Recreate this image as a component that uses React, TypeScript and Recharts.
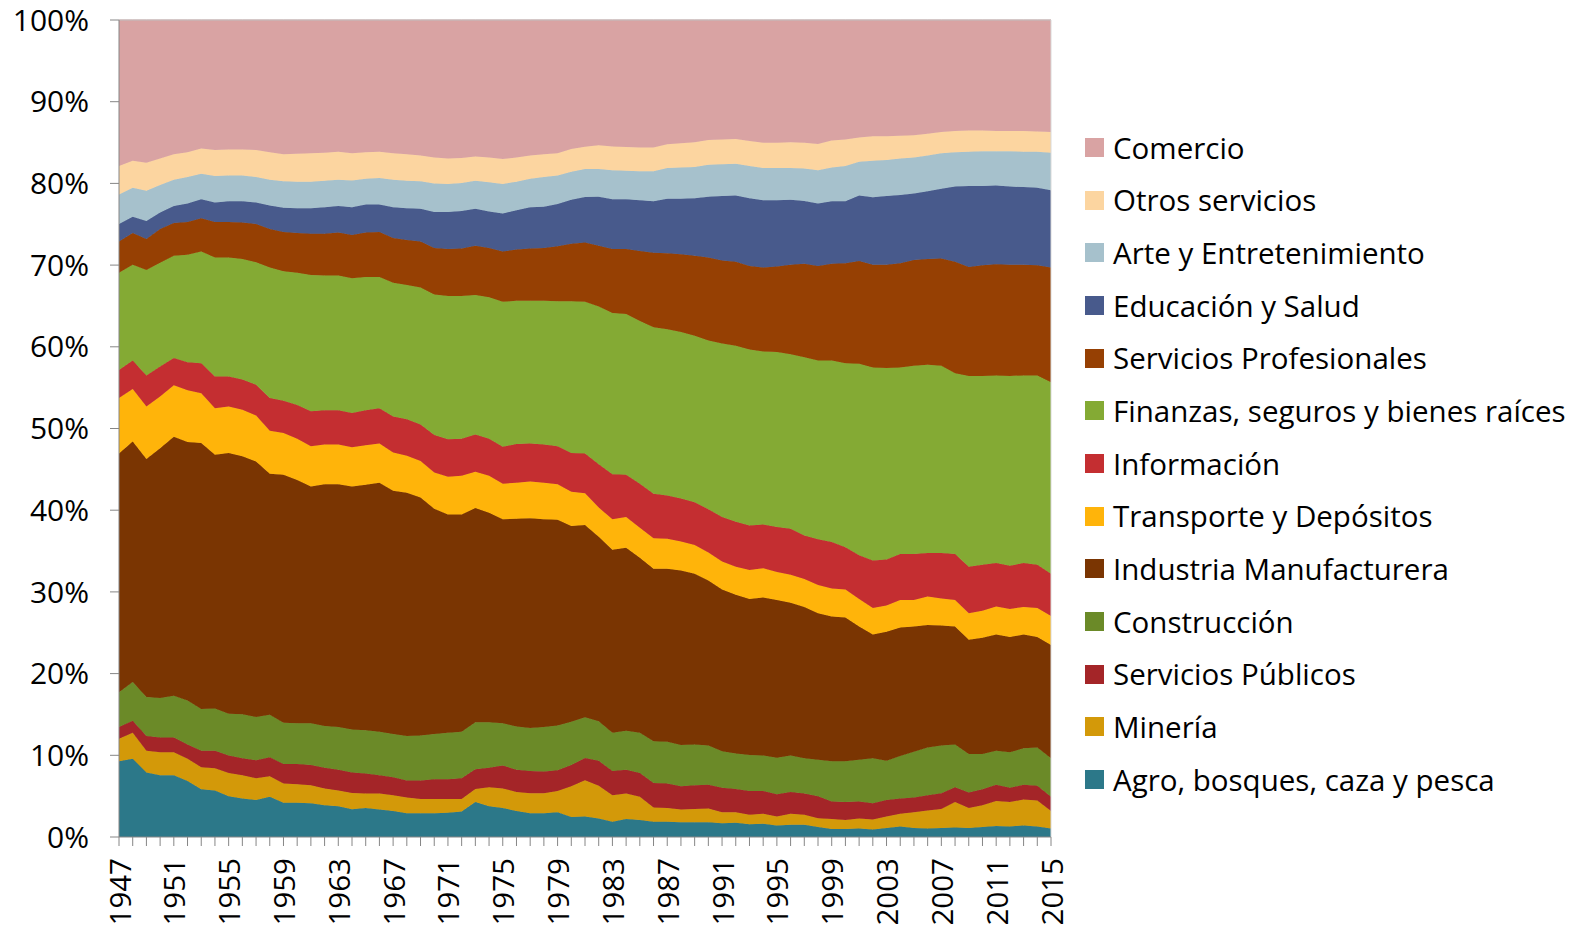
import React from 'react';
import { AreaChart, Area, XAxis, YAxis, Legend, ReferenceLine } from 'recharts';

const years = [
  1947, 1948, 1949, 1950, 1951, 1952, 1953, 1954, 1955, 1956, 1957, 1958, 1959, 1960,
  1961, 1962, 1963, 1964, 1965, 1966, 1967, 1968, 1969, 1970, 1971, 1972, 1973, 1974,
  1975, 1976, 1977, 1978, 1979, 1980, 1981, 1982, 1983, 1984, 1985, 1986, 1987, 1988,
  1989, 1990, 1991, 1992, 1993, 1994, 1995, 1996, 1997, 1998, 1999, 2000, 2001, 2002,
  2003, 2004, 2005, 2006, 2007, 2008, 2009, 2010, 2011, 2012, 2013, 2014, 2015,
];

const agro = [9.26, 9.58, 7.9, 7.57, 7.57, 6.86, 5.83, 5.7, 4.98, 4.72, 4.53, 4.92, 4.2, 4.2, 4.14, 3.88, 3.75, 3.4, 3.56, 3.37, 3.17, 2.91, 2.91, 2.91, 2.98, 3.11, 4.27, 3.75, 3.56, 3.17, 2.91, 2.91, 3.04, 2.46, 2.5, 2.27, 1.88, 2.2, 2.07, 1.88, 1.88, 1.81, 1.81, 1.81, 1.68, 1.75, 1.55, 1.62, 1.42, 1.49, 1.49, 1.23, 0.97, 0.97, 1.04, 0.91, 1.1, 1.29, 1.1, 1.04, 1.1, 1.17, 1.1, 1.23, 1.36, 1.29, 1.42, 1.29, 1.04];
const mineria = [2.78, 3.17, 2.65, 2.79, 2.79, 2.72, 2.71, 2.71, 2.85, 2.85, 2.65, 2.52, 2.34, 2.27, 2.2, 2.07, 1.95, 2.0, 1.75, 1.94, 1.94, 1.94, 1.75, 1.75, 1.68, 1.55, 1.62, 2.33, 2.39, 2.33, 2.46, 2.46, 2.59, 3.75, 4.46, 4.01, 3.23, 3.11, 2.85, 1.74, 1.68, 1.56, 1.62, 1.69, 1.36, 1.29, 1.17, 1.23, 1.1, 1.36, 1.23, 1.07, 1.23, 1.1, 1.23, 1.23, 1.42, 1.56, 1.94, 2.2, 2.33, 3.1, 2.46, 2.65, 3.04, 2.98, 3.18, 3.18, 2.13];
const serviciosPublicos = [1.42, 1.49, 1.81, 1.81, 1.81, 1.75, 2.01, 2.14, 2.14, 2.07, 2.21, 2.33, 2.39, 2.46, 2.46, 2.53, 2.52, 2.5, 2.46, 2.26, 2.2, 2.08, 2.27, 2.4, 2.4, 2.52, 2.39, 2.4, 2.79, 2.72, 2.72, 2.66, 2.53, 2.59, 2.72, 3.04, 2.98, 2.91, 2.91, 2.98, 2.98, 2.84, 2.91, 2.91, 2.98, 2.85, 2.91, 2.78, 2.72, 2.65, 2.59, 2.68, 2.14, 2.2, 2.07, 2.0, 2.01, 1.87, 1.81, 1.87, 1.94, 1.81, 1.88, 1.95, 2.01, 1.75, 1.81, 1.81, 1.75];
const construccion = [4.27, 4.72, 4.79, 4.85, 5.11, 5.37, 5.11, 5.18, 5.11, 5.38, 5.3, 5.18, 5.05, 4.99, 5.12, 5.11, 5.24, 5.27, 5.3, 5.31, 5.31, 5.43, 5.5, 5.56, 5.69, 5.7, 5.77, 5.57, 5.18, 5.31, 5.24, 5.43, 5.5, 5.31, 4.98, 4.85, 4.66, 4.79, 4.92, 5.12, 5.11, 5.05, 4.99, 4.79, 4.47, 4.34, 4.4, 4.34, 4.47, 4.47, 4.33, 4.47, 4.92, 4.99, 5.11, 5.5, 4.79, 5.18, 5.57, 5.83, 5.83, 5.25, 4.72, 4.33, 4.14, 4.34, 4.46, 4.66, 4.72];
const industria = [29.2, 29.45, 29.13, 30.55, 31.72, 31.65, 32.56, 31.07, 31.91, 31.58, 31.26, 29.52, 30.36, 29.77, 28.99, 29.58, 29.71, 29.74, 30.04, 30.49, 29.77, 29.78, 29.12, 27.57, 26.73, 26.6, 26.21, 25.63, 24.98, 25.43, 25.7, 25.44, 25.17, 23.95, 23.53, 22.59, 22.4, 22.39, 21.42, 21.1, 21.17, 21.36, 20.9, 20.19, 19.8, 19.41, 19.1, 19.35, 19.29, 18.7, 18.52, 17.93, 17.73, 17.6, 16.31, 15.15, 15.79, 15.73, 15.34, 15.01, 14.69, 14.43, 13.98, 14.24, 14.24, 14.11, 13.92, 13.53, 13.86];
const transporte = [6.79, 6.41, 6.41, 6.35, 6.28, 6.34, 6.08, 5.69, 5.7, 5.7, 5.64, 5.24, 5.11, 5.05, 4.92, 4.86, 4.86, 4.79, 4.85, 4.79, 4.67, 4.53, 4.47, 4.41, 4.6, 4.73, 4.46, 4.53, 4.34, 4.41, 4.47, 4.47, 4.34, 4.21, 3.89, 3.56, 3.75, 3.76, 3.69, 3.75, 3.68, 3.56, 3.5, 3.43, 3.43, 3.43, 3.56, 3.56, 3.43, 3.43, 3.43, 3.46, 3.43, 3.43, 3.37, 3.24, 3.24, 3.37, 3.24, 3.5, 3.3, 3.24, 3.24, 3.3, 3.43, 3.43, 3.37, 3.56, 3.56];
const informacion = [3.43, 3.5, 3.81, 3.68, 3.36, 3.43, 3.69, 3.89, 3.69, 3.69, 3.75, 4.01, 3.95, 4.14, 4.27, 4.2, 4.2, 4.21, 4.27, 4.33, 4.4, 4.46, 4.47, 4.59, 4.59, 4.53, 4.54, 4.53, 4.53, 4.72, 4.66, 4.66, 4.66, 4.72, 4.85, 5.31, 5.5, 5.18, 5.38, 5.44, 5.31, 5.24, 5.24, 5.31, 5.44, 5.51, 5.43, 5.37, 5.5, 5.63, 5.3, 5.6, 5.7, 5.18, 5.37, 5.82, 5.63, 5.63, 5.63, 5.31, 5.57, 5.63, 5.69, 5.63, 5.31, 5.3, 5.37, 5.3, 5.17];
const finanzas = [11.91, 11.71, 12.89, 12.69, 12.49, 13.14, 13.66, 14.56, 14.56, 14.75, 15.02, 15.99, 15.86, 16.18, 16.7, 16.51, 16.51, 16.47, 16.31, 16.05, 16.37, 16.44, 16.76, 17.22, 17.54, 17.47, 17.08, 17.34, 17.73, 17.54, 17.47, 17.6, 17.74, 18.58, 18.57, 19.29, 19.74, 19.67, 19.93, 20.38, 20.33, 20.39, 20.39, 20.65, 21.23, 21.55, 21.56, 21.17, 21.42, 21.36, 21.82, 21.88, 22.2, 22.52, 23.43, 23.63, 23.43, 22.85, 23.04, 23.04, 22.91, 22.13, 23.37, 23.11, 22.97, 23.24, 22.97, 23.17, 23.43];
const profesionales = [3.82, 3.89, 3.81, 4.14, 4.02, 4.02, 4.08, 4.34, 4.34, 4.47, 4.66, 4.72, 4.79, 4.86, 5.05, 5.11, 5.24, 5.31, 5.44, 5.51, 5.5, 5.5, 5.63, 5.69, 5.76, 5.83, 6.02, 6.02, 6.15, 6.28, 6.41, 6.47, 6.73, 7.05, 7.28, 7.44, 7.83, 7.96, 8.55, 9.13, 9.32, 9.52, 9.77, 10.16, 10.16, 10.29, 10.22, 10.29, 10.49, 10.94, 11.45, 11.58, 11.84, 12.24, 12.56, 12.55, 12.62, 12.75, 12.94, 12.94, 13.14, 13.66, 13.33, 13.53, 13.6, 13.59, 13.53, 13.47, 14.05];
const educacion = [2.14, 2.0, 2.2, 2.01, 2.07, 2.26, 2.33, 2.39, 2.52, 2.59, 2.65, 2.85, 2.97, 3.04, 3.11, 3.24, 3.24, 3.4, 3.43, 3.36, 3.76, 3.89, 4.01, 4.4, 4.53, 4.59, 4.53, 4.47, 4.66, 4.79, 5.05, 5.05, 5.18, 5.37, 5.57, 6.02, 6.09, 6.09, 6.21, 6.28, 6.66, 6.79, 7.06, 7.44, 7.9, 8.09, 8.29, 8.22, 8.09, 7.96, 7.7, 7.64, 7.64, 7.57, 8.02, 8.29, 8.42, 8.35, 8.16, 8.29, 8.54, 9.19, 9.91, 9.71, 9.64, 9.58, 9.52, 9.51, 9.45];
const arte = [3.62, 3.56, 3.69, 3.37, 3.23, 3.24, 3.11, 3.24, 3.17, 3.17, 3.11, 3.17, 3.24, 3.23, 3.23, 3.23, 3.23, 3.26, 3.17, 3.24, 3.36, 3.36, 3.37, 3.5, 3.44, 3.43, 3.43, 3.56, 3.63, 3.49, 3.49, 3.63, 3.49, 3.43, 3.4, 3.37, 3.56, 3.49, 3.56, 3.69, 3.76, 3.82, 3.82, 3.89, 3.88, 3.88, 3.95, 3.95, 3.95, 3.89, 3.95, 4.08, 4.14, 4.34, 4.14, 4.46, 4.4, 4.46, 4.4, 4.4, 4.34, 4.21, 4.2, 4.27, 4.21, 4.34, 4.33, 4.4, 4.59];
const otros = [3.5, 3.3, 3.43, 3.23, 3.11, 3.04, 3.1, 3.17, 3.17, 3.17, 3.3, 3.37, 3.3, 3.43, 3.5, 3.43, 3.43, 3.34, 3.24, 3.23, 3.24, 3.24, 3.17, 3.17, 3.1, 3.05, 2.98, 3.04, 3.04, 2.98, 2.85, 2.78, 2.72, 2.79, 2.75, 2.91, 2.91, 2.92, 2.91, 2.91, 2.91, 2.98, 3.04, 3.04, 3.04, 3.05, 3.04, 3.1, 3.1, 3.17, 3.17, 3.2, 3.3, 3.23, 2.98, 2.98, 2.91, 2.79, 2.72, 2.65, 2.59, 2.59, 2.59, 2.52, 2.46, 2.46, 2.53, 2.46, 2.53];
const comercio = [17.86, 17.22, 17.48, 16.96, 16.44, 16.18, 15.73, 15.92, 15.86, 15.86, 15.92, 16.18, 16.44, 16.38, 16.31, 16.25, 16.12, 16.31, 16.18, 16.12, 16.31, 16.44, 16.57, 16.83, 16.96, 16.89, 16.7, 16.83, 17.02, 16.83, 16.57, 16.44, 16.31, 15.79, 15.5, 15.34, 15.47, 15.53, 15.6, 15.6, 15.21, 15.08, 14.95, 14.69, 14.63, 14.56, 14.82, 15.02, 15.02, 14.95, 15.02, 15.18, 14.76, 14.63, 14.37, 14.24, 14.24, 14.17, 14.11, 13.92, 13.72, 13.59, 13.53, 13.53, 13.59, 13.59, 13.59, 13.66, 13.72];

const seriesNames = [
  'Agro, bosques, caza y pesca',
  'Minería',
  'Servicios Públicos',
  'Construcción',
  'Industria Manufacturera',
  'Transporte y Depósitos',
  'Información',
  'Finanzas, seguros y bienes raíces',
  'Servicios Profesionales',
  'Educación y Salud',
  'Arte y Entretenimiento',
  'Otros servicios',
  'Comercio',
];
const seriesValues = [
  agro, mineria, serviciosPublicos, construccion, industria, transporte,
  informacion, finanzas, profesionales, educacion, arte, otros, comercio,
];
const seriesColors = [
  '#2C7889', '#D39909', '#A42528', '#6B8A28', '#7A3502', '#FFB40A',
  '#C42E31', '#84AA34', '#964003', '#485A8C', '#A6C1CC', '#FCD5A0', '#D9A3A3',
];

const yTicks = [0, 0.1, 0.2, 0.3, 0.4, 0.5, 0.6, 0.7, 0.8, 0.9, 1];

const data = years.map((year, i) => {
  const row: Record<string, number> = { year };
  seriesNames.forEach((name, s) => {
    row[name] = seriesValues[s][i];
  });
  return row;
});

const FONT = 'Open Sans';
const AXIS_COLOR = '#868686';

const XTick = (props: any) => {
  const { x, y, payload } = props;
  const yr = Number(payload.value);
  if ((yr - 1947) % 4 !== 0) return <g />;
  return (
    <text
      x={x}
      y={y}
      transform={`rotate(-90, ${x}, ${y})`}
      textAnchor="end"
      dominantBaseline="central"
      fontSize={29.5}
      fontFamily={FONT}
      fill="#000"
    >
      {yr}
    </text>
  );
};

const renderLegend = () => {
  const items = seriesNames.map((n, i) => ({ name: n, color: seriesColors[i] })).reverse();
  return (
    <div style={{ width: 490 }}>
      {items.map((it) => (
        <div
          key={it.name}
          style={{ height: 52.7, display: 'flex', alignItems: 'center', whiteSpace: 'nowrap' }}
        >
          <span
            style={{ display: 'inline-block', width: 19, height: 19, background: it.color, marginRight: 9, flexShrink: 0 }}
          />
          <span style={{ fontFamily: FONT, fontSize: 29.5, color: '#000', lineHeight: 1 }}>{it.name}</span>
        </div>
      ))}
    </div>
  );
};

export default function App() {
  return (
    <div style={{ position: 'absolute', left: 0, top: 0, width: 1582, height: 931, background: '#fff' }}>
      <AreaChart
        width={1582}
        height={931}
        data={data}
        stackOffset="expand"
        margin={{ top: 20, right: 41, bottom: 0, left: 0 }}
      >
        <XAxis
          dataKey="year"
          interval={0}
          tick={<XTick />}
          tickSize={9}
          tickMargin={12}
          height={94}
          axisLine={{ stroke: AXIS_COLOR }}
          tickLine={{ stroke: AXIS_COLOR }}
        />
        <YAxis
          width={119}
          domain={[0, 1]}
          ticks={yTicks}
          tickFormatter={(v: number) => `${Math.round(v * 100)}%`}
          tick={{ fill: '#000', fontSize: 30, fontFamily: FONT }}
          tickSize={9}
          tickMargin={21}
          axisLine={{ stroke: AXIS_COLOR }}
          tickLine={{ stroke: AXIS_COLOR }}
        />
        {seriesNames.map((name, i) => (
          <Area
            key={name}
            type="linear"
            dataKey={name}
            stackId="1"
            stroke={seriesColors[i]}
            strokeWidth={1}
            fill={seriesColors[i]}
            fillOpacity={1}
            isAnimationActive={false}
            dot={false}
            activeDot={false}
          />
        ))}
        <ReferenceLine y={1} stroke="#BFBFBF" strokeWidth={1} />
        <ReferenceLine x={2015} stroke="#D9D9D9" strokeWidth={1} />
        <Legend
          layout="vertical"
          align="right"
          verticalAlign="top"
          content={renderLegend}
          wrapperStyle={{ width: 490, left: 1085, top: 121, right: 'auto' }}
        />
      </AreaChart>
    </div>
  );
}
